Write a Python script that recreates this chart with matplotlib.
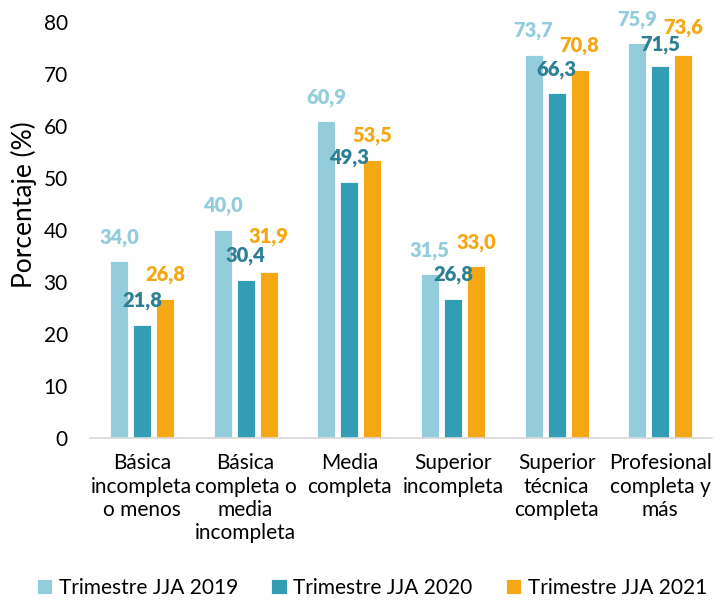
import numpy as np
import matplotlib
matplotlib.use("Agg")
import matplotlib.pyplot as plt

plt.rcParams['font.family'] = ['Lato', 'DejaVu Sans']

categories = [
    "Básica\nincompleta\no menos",
    "Básica\ncompleta o\nmedia\nincompleta",
    "Media\ncompleta",
    "Superior\nincompleta",
    "Superior\ntécnica\ncompleta",
    "Profesional\ncompleta y\nmás",
]
series_names = ["Trimestre JJA 2019", "Trimestre JJA 2020", "Trimestre JJA 2021"]
v2019 = [34.0, 40.0, 60.9, 31.5, 73.7, 75.9]
v2020 = [21.8, 30.4, 49.3, 26.8, 66.3, 71.5]
v2021 = [26.8, 31.9, 53.5, 33.0, 70.8, 73.6]

bar_colors = ["#93CDDB", "#339DB6", "#F5A814"]
label_colors = ["#93CDDB", "#2C7F95", "#F5A814"]

# extra lift (points) for labels that would collide, as in the original
label_nudge = {(2, 1): 8, (2, 5): 2.5, (1, 5): -1.5}

fig = plt.figure(figsize=(7.15, 6.06), dpi=100)
ax = fig.add_axes([0.126, 0.277, 0.87, 0.687])

x = np.arange(len(categories))
width = 0.174
step = 0.222
for k, vals in enumerate([v2019, v2020, v2021]):
    pos = x + (k - 1) * step
    bars = ax.bar(pos, vals, width, color=bar_colors[k], edgecolor="white",
                  linewidth=0.6, label=series_names[k])
    for i, (b, v) in enumerate(zip(bars, vals)):
        ax.annotate(f"{v:.1f}".replace(".", ","),
                    (b.get_x() + b.get_width() / 2, v),
                    xytext=(0, 10.5 + label_nudge.get((k, i), 0)),
                    textcoords="offset points",
                    ha="center", va="bottom", fontsize=14.5, fontweight="heavy",
                    color=label_colors[k], annotation_clip=False)

ax.set_xlim(-0.5, 5.5)
ax.set_ylim(0, 80)
ax.set_yticks(range(0, 81, 10))
ax.set_xticks(x)
ax.set_xticklabels(categories, fontsize=15, linespacing=1.2)
ax.tick_params(axis="y", labelsize=15, length=0, pad=16)
ax.tick_params(axis="x", length=0, pad=11)
for s in ["top", "right", "left"]:
    ax.spines[s].set_visible(False)
ax.spines["bottom"].set_color("#D9D9D9")
ax.spines["bottom"].set_linewidth(1.2)
ax.set_ylabel("Porcentaje (%)", fontsize=19)
ax.yaxis.set_label_coords(-0.085, 0.56)

fig.legend(loc="center", bbox_to_anchor=(0.52, 0.03), ncol=3, frameon=False,
           fontsize=15, handlelength=0.75, handleheight=0.75, handletextpad=0.3,
           columnspacing=1.6)

fig.savefig("out.png", dpi=100)
